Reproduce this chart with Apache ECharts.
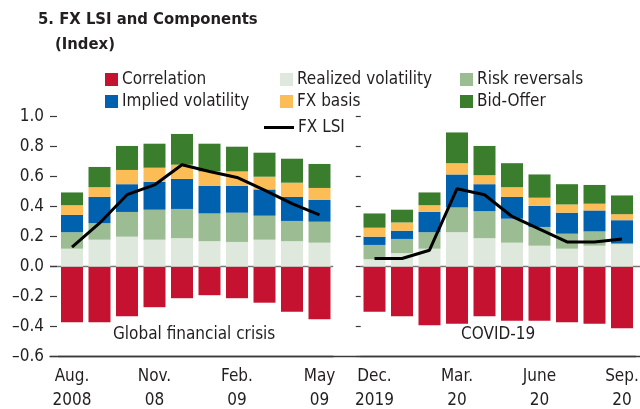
<!DOCTYPE html>
<html>
<head>
<meta charset="utf-8">
<script src="https://cdn.jsdelivr.net/npm/echarts@6/dist/echarts.min.js"></script>
<style>
  html, body { margin: 0; padding: 0; background: #fff; }
  #main { width: 640px; height: 409px; }
</style>
</head>
<body>
<div id="main"></div>
<script>
// months, with an empty slot between the two episodes
const categories = ['Aug 08','Sep 08','Oct 08','Nov 08','Dec 08','Jan 09','Feb 09','Mar 09','Apr 09','May 09','',
  'Dec 19','Jan 20','Feb 20','Mar 20','Apr 20','May 20','Jun 20','Jul 20','Aug 20','Sep 20'];
const tickLabels = ['Aug.\n2008','','','Nov.\n08','','','Feb.\n09','','','May\n09','',
  'Dec.\n2019','','','Mar.\n20','','','June\n20','','','Sep.\n20'];

const correlation = [-0.37,-0.37,-0.33,-0.27,-0.21,-0.19,-0.21,-0.24,-0.30,-0.35,null,
  -0.30,-0.33,-0.39,-0.38,-0.33,-0.36,-0.36,-0.37,-0.38,-0.41];
const realizedVol = [0.12,0.18,0.20,0.18,0.19,0.17,0.165,0.18,0.17,0.16,null,
  0.05,0.09,0.12,0.23,0.19,0.16,0.14,0.12,0.14,0.15];
const riskReversals = [0.11,0.11,0.165,0.20,0.195,0.185,0.195,0.16,0.135,0.14,null,
  0.095,0.095,0.11,0.165,0.18,0.16,0.125,0.10,0.095,0.005];
const impliedVol = [0.115,0.175,0.185,0.185,0.20,0.185,0.18,0.175,0.16,0.145,null,
  0.055,0.055,0.135,0.22,0.18,0.145,0.14,0.14,0.14,0.155];
const fxBasis = [0.065,0.065,0.095,0.095,0.095,0.095,0.095,0.085,0.095,0.08,null,
  0.06,0.055,0.045,0.075,0.06,0.065,0.055,0.055,0.045,0.04];
const bidOffer = [0.085,0.135,0.16,0.16,0.205,0.185,0.165,0.16,0.16,0.16,null,
  0.095,0.085,0.085,0.205,0.195,0.16,0.155,0.135,0.125,0.125];
const fxLsi = [0.13,0.29,0.48,0.545,0.68,0.635,0.595,0.51,0.42,0.345,null,
  0.055,0.055,0.11,0.52,0.48,0.335,0.25,0.165,0.165,0.185];

const yTicks = [-0.6,-0.4,-0.2,0.0,0.2,0.4,0.6,0.8,1.0];

const FONT = "'DejaVu Sans Condensed', 'DejaVu Sans', sans-serif";
const TXT = '#231f20';
const AXIS = '#3a3a3a';

// only the 0 line of the split lines is drawn
const zeroLineColors = yTicks.map(v => v === 0 ? '#7a7a7a' : 'rgba(0,0,0,0)');

function bar(name, color, data) {
  return {
    name: name, type: 'bar', stack: 'lsi', data: data,
    xAxisIndex: 0, yAxisIndex: 0,
    barWidth: 22,
    itemStyle: { color: color },
    emphasis: { disabled: true }
  };
}

const chart = echarts.init(document.getElementById('main'));
chart.setOption({
  animation: false,
  textStyle: { fontFamily: FONT },
  title: [
    { text: '5. FX LSI and Components', left: 33, top: 6,
      textStyle: { fontFamily: FONT, fontSize: 16.5, fontWeight: 'bold', color: TXT } },
    { text: '(Index)', left: 50, top: 31,
      textStyle: { fontFamily: FONT, fontSize: 16.5, fontWeight: 'bold', color: TXT } }
  ],
  legend: [
    { left: 100, top: 66, orient: 'vertical', itemGap: 5, itemWidth: 13, itemHeight: 13, icon: 'rect',
      data: ['Correlation', 'Implied volatility'],
      textStyle: { fontSize: 17, color: TXT, padding: [0, 0, 0, -1] } },
    { left: 275, top: 66, orient: 'vertical', itemGap: 5, itemWidth: 13, itemHeight: 13, icon: 'rect',
      data: ['Realized volatility', 'FX basis'],
      textStyle: { fontSize: 17, color: TXT, padding: [0, 0, 0, -1] } },
    { left: 455, top: 66, orient: 'vertical', itemGap: 5, itemWidth: 13, itemHeight: 13, icon: 'rect',
      data: ['Risk reversals', 'Bid-Offer'],
      textStyle: { fontSize: 17, color: TXT, padding: [0, 0, 0, -1] } },
    { left: 259, top: 114, itemWidth: 30, itemHeight: 3, icon: 'rect',
      data: ['FX LSI'],
      textStyle: { fontSize: 17, color: TXT, padding: [0, 0, 0, -1] } }
  ],
  grid: [
    { left: 58.25, right: 4.25, top: 116.7, bottom: 52.3, outerBoundsMode: 'none' },   // bars
    { left: 50, width: 283.25, top: 116.7, bottom: 52.3, outerBoundsMode: 'none' },    // left panel axis
    { left: 360.75, right: 0, top: 116.7, bottom: 52.3, outerBoundsMode: 'none' }       // right panel axis
  ],
  xAxis: [
    { type: 'category', gridIndex: 0, data: categories,
      axisLine: { onZero: false, lineStyle: { color: AXIS, width: 1.3 } },
      axisTick: { inside: true, length: 7, interval: 0, lineStyle: { color: AXIS, width: 1.3 } },
      axisLabel: { interval: 0, margin: 8, fontSize: 17, lineHeight: 24, color: TXT,
        formatter: (v, i) => tickLabels[i] } },
    { type: 'value', gridIndex: 1, min: 0, max: 1,
      axisLine: { show: true, onZero: false, lineStyle: { color: AXIS, width: 1.3 } },
      axisTick: { show: false }, axisLabel: { show: false }, splitLine: { show: false } },
    { type: 'value', gridIndex: 2, min: 0, max: 1,
      axisLine: { show: true, onZero: false, lineStyle: { color: AXIS, width: 1.3 } },
      axisTick: { show: false }, axisLabel: { show: false }, splitLine: { show: false } }
  ],
  yAxis: [
    { type: 'value', gridIndex: 0, min: -0.6, max: 1.0, interval: 0.2, show: false },
    { type: 'value', gridIndex: 1, min: -0.6, max: 1.0, interval: 0.2,
      axisLine: { show: false },
      axisTick: { show: true, inside: true, length: 7, lineStyle: { color: AXIS, width: 1.2 } },
      axisLabel: { fontSize: 17, color: TXT, margin: 6,
        formatter: v => (v < 0 ? '\u2013' : '') + Math.abs(v).toFixed(1) },
      splitLine: { show: true, lineStyle: { color: zeroLineColors, width: 1.3 } } },
    { type: 'value', gridIndex: 2, position: 'right', min: -0.6, max: 1.0, interval: 0.2,
      axisLine: { show: false },
      axisTick: { show: true, inside: true, length: 5, lineStyle: { color: AXIS, width: 1.2 } },
      axisLabel: { show: false },
      splitLine: { show: true, lineStyle: { color: zeroLineColors, width: 1.3 } } }
  ],
  graphic: [
    { type: 'text', left: 113, top: 326,
      style: { text: 'Global financial crisis', font: '17px ' + FONT, fill: TXT } },
    { type: 'text', left: 461, top: 326,
      style: { text: 'COVID-19', font: '17px ' + FONT, fill: TXT } }
  ],
  series: [
    bar('Correlation', '#c41230', correlation),
    bar('Realized volatility', '#dfe8dc', realizedVol),
    bar('Risk reversals', '#9cbd93', riskReversals),
    bar('Implied volatility', '#0061ae', impliedVol),
    bar('FX basis', '#fdbd56', fxBasis),
    bar('Bid-Offer', '#3a7d2c', bidOffer),
    { name: 'FX LSI', type: 'line', data: fxLsi, xAxisIndex: 0, yAxisIndex: 0,
      showSymbol: false, connectNulls: false, z: 5,
      itemStyle: { color: '#000' },
      lineStyle: { color: '#000', width: 3 },
      emphasis: { disabled: true } }
  ]
});
</script>
</body>
</html>
